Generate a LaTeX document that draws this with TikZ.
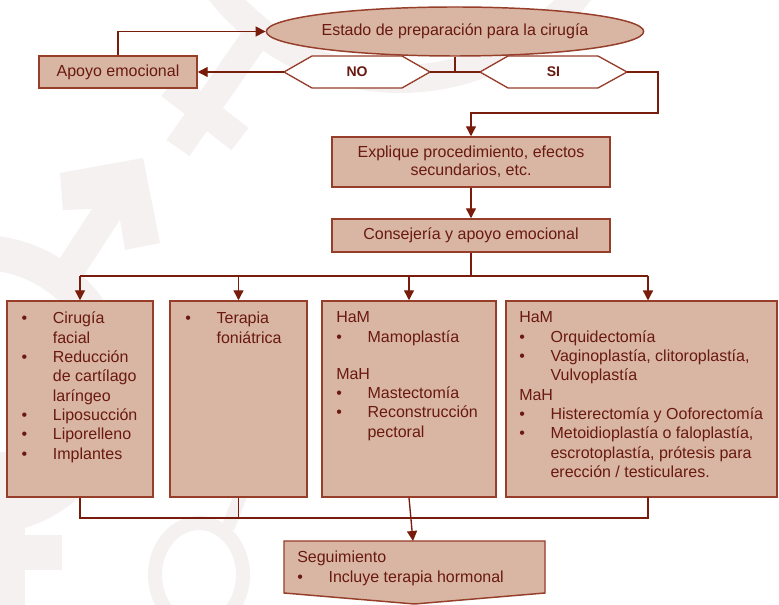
\documentclass[tikz,border=0pt]{standalone}
\usepackage{fontspec}
\setmainfont{Liberation Sans}
\usetikzlibrary{arrows.meta,shapes.geometric}
\definecolor{fillc}{RGB}{217,182,164}
\definecolor{edgec}{RGB}{150,62,42}
\definecolor{linec}{RGB}{120,28,12}
\definecolor{txtc}{RGB}{105,25,15}
\definecolor{wmc}{RGB}{246,241,241}
\newcommand\bl{\textbullet}
\begin{document}
\begin{tikzpicture}[x=0.75pt,y=-0.75pt,
  box/.style={draw=edgec,fill=fillc,line width=1.1pt,inner sep=0pt,rectangle},
  lbl/.style={text=txtc,font=\fontsize{12}{13.5}\selectfont,align=center},
  conn/.style={draw=linec,line width=1pt},
  arr/.style={conn,-{Triangle[length=7.5pt,width=7.5pt]}},
  hexb/.style={draw=edgec,fill=white,line width=1pt},
  yn/.style={minimum width=#1,minimum height=24pt,inner sep=0pt,text=txtc,font=\bfseries\fontsize{10.5}{12}\selectfont},
  txt/.style={text=txtc,font=\fontsize{12}{14.5}\selectfont,inner sep=0pt,anchor=base west}]
\useasboundingbox (0,0) rectangle (779,605);
\fill[white] (0,0) rectangle (779,605);
% ---- faint watermark ----
\draw[wmc,line width=21pt] (400,-150) circle[radius=171.75pt];
\draw[wmc,line width=21pt] (252,42) -- (178,148);
\draw[wmc,line width=21pt] (170,85) -- (240,139);
\fill[wmc] (60,173) -- (143,158) -- (160,243) -- (125,250) -- (118,208) -- (63,210) -- cycle;
\draw[wmc,line width=22pt] (112,205) -- (60,285);
\draw[wmc,line width=26pt] (-20,385) circle[radius=99.4pt];
\fill[wmc] (0,452) rectangle (25,605);
\fill[wmc] (0,535) rectangle (62,570);
\draw[wmc,line width=10.5pt] (199,575) ellipse[x radius=33pt,y radius=39pt];
\draw[wmc,line width=10pt] (228,528) -- (250,470);
% ---- hexagons ----
\draw[hexb] (284,72) -- (312,56) -- (402,56) -- (430,72) -- (402,88) -- (312,88) -- cycle;
\draw[hexb] (480,72) -- (508,56) -- (598,56) -- (627,72) -- (598,88) -- (508,88) -- cycle;
\node[yn=109.5pt] (no) at (357,72) {NO};
\node[yn=110.25pt] (si) at (553.5,72) {SI};
% ---- boxes ----
\node[box,ellipse,minimum width=282pt,minimum height=36.75pt,lbl] (est) at (455,31.5) {Estado de preparación para la cirugía};
\node[box,minimum width=118.5pt,minimum height=24pt,lbl] (apo) at (118,72) {Apoyo emocional};
\node[box,minimum width=208.5pt,minimum height=37.5pt,lbl] (exp) at (471,162) {Explique procedimiento, efectos\\secundarios, etc.};
\node[box,minimum width=208.5pt,minimum height=24.75pt,lbl] (cons) at (471,235.5) {Consejería y apoyo emocional};
\node[box,minimum width=109.5pt,minimum height=147pt] (b1) at (80,399) {};
\node[box,minimum width=102.75pt,minimum height=147pt] (b2) at (238.5,399) {};
\node[box,minimum width=130.5pt,minimum height=147pt] (b3) at (409,399) {};
\node[box,minimum width=203.25pt,minimum height=147pt] (b4) at (641.5,399) {};
\draw[box] (284,541) -- (545,541) -- (545,593) -- (414.5,604) -- (284,593) -- cycle;
% ---- box texts ----
\node[txt] (t1) at (21.3,324) {\begin{tabular}[t]{@{}p{23.5pt}@{}l@{}}
\bl & Cirugía\\
 & facial\\
\bl & Reducción\\
 & de cartílago\\
 & laríngeo\\
\bl & Liposucción\\
\bl & Liporelleno\\
\bl & Implantes
\end{tabular}};
\node[txt] (t2) at (185,324) {\begin{tabular}[t]{@{}p{23.5pt}@{}l@{}}
\bl & Terapia\\
 & foniátrica
\end{tabular}};
\node[txt] (t3) at (336,323) {\begin{tabular}[t]{@{}p{23.5pt}@{}l@{}}
\multicolumn{2}{@{}l@{}}{HaM}\\
\bl & Mamoplastía\\[13.25pt]
\multicolumn{2}{@{}l@{}}{MaH}\\
\bl & Mastectomía\\
\bl & Reconstrucción\\
 & pectoral
\end{tabular}};
\node[txt] (t4) at (519,323) {\begin{tabular}[t]{@{}p{23.5pt}@{}l@{}}
\multicolumn{2}{@{}l@{}}{HaM}\\
\bl & Orquidectomía\\
\bl & Vaginoplastía, clitoroplastía,\\
 & Vulvoplastía\\
\multicolumn{2}{@{}l@{}}{MaH}\\
\bl & Histerectomía y Ooforectomía\\
\bl & Metoidioplastía o faloplastía,\\
 & escrotoplastía, prótesis para\\
 & erección / testiculares.
\end{tabular}};
\node[txt] (t5) at (297,563) {\begin{tabular}[t]{@{}p{23.5pt}@{}l@{}}
\multicolumn{2}{@{}l@{}}{Seguimiento}\\
\bl & Incluye terapia hormonal
\end{tabular}};
% ---- connectors ----
\draw[arr] (apo.north) |- (est.west);
\draw[arr] (no.west) -- (apo.east);
\draw[conn] (no.east) -- (si.west);
\draw[conn] (est.south) -- (est.south |- no.east);
\coordinate (k) at (658,113);
\draw[arr] (si.east) -| (k) -| (exp.north);
\draw[arr] (exp.south) -- (cons.north);
\coordinate (h) at (471,276);
\coordinate (a4) at (648,300.5);
\draw[conn] (cons.south) -- (h);
\draw[conn] (b1.north |- h) -- (a4 |- h);
\draw[arr] (b1.north |- h) -- (b1.north);
\draw[arr] (b2.north |- h) -- (b2.north);
\draw[arr] (b3.north |- h) -- (b3.north);
\draw[arr] (a4 |- h) -- (a4);
\coordinate (g) at (80,518);
\coordinate (b4s) at (648,497.5);
\draw[conn] (b1.south) -- (b1.south |- g) -- (b4s |- g) -- (b4s);
\draw[conn] (b2.south) -- (b2.south |- g);
\coordinate (segtop) at (413,541);
\draw[arr] (b3.south) -- (segtop);
\end{tikzpicture}
\end{document}
